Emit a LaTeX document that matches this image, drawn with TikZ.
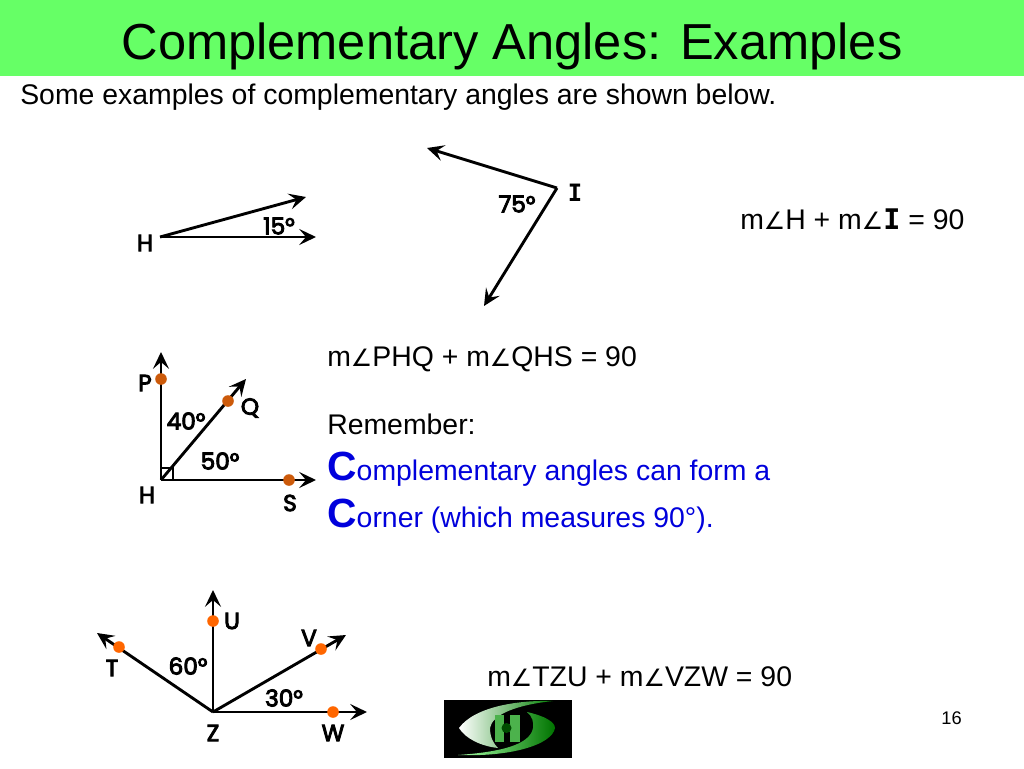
\documentclass[tikz,border=0pt]{standalone}
\usepackage{xcolor}
\usepackage{fontspec}
\setmainfont{Liberation Sans}
\newfontfamily\anglefont{DejaVu Sans}
\newfontfamily\handfont[FakeBold=4]{Poppins}
\newfontfamily\slabfont{DejaVu Sans Mono}
\usetikzlibrary{arrows.meta,positioning}
\definecolor{titlegreen}{RGB}{102,255,102}
\definecolor{dotorange}{RGB}{255,102,0}
\definecolor{dotbrown}{RGB}{204,90,10}
\definecolor{rembmblue}{RGB}{0,0,220}
\newcommand{\ang}{{\anglefont\fontsize{17pt}{17pt}\selectfont\char"2220}}
\newcommand{\bigc}{{\fontsize{29pt}{29pt}\selectfont\bfseries C}}

\begin{document}
\begin{tikzpicture}[x=0.25mm,y=-0.25mm,
		ray/.style = {line width=0.72mm,-{Stealth[length=4.2mm,width=4mm,inset=1.7mm]}},
		leg/.style = {line width=0.5mm},
		dot/.style = {circle,fill=dotorange,inner sep=0pt,minimum size=2.9mm},
		browndot/.style = {circle,fill=dotbrown,inner sep=0pt,minimum size=2.9mm},
		lab/.style = {inner sep=0pt,font=\handfont\fontsize{16.5pt}{16.5pt}\selectfont},
		txt/.style = {inner sep=0pt,anchor=base west,font=\fontsize{20.2pt}{20.2pt}\selectfont},
		btxt/.style = {txt,text=rembmblue}]
	\useasboundingbox (0,0) rectangle (1024,768);

	% Title
	\fill[titlegreen] (0,0) rectangle (1024,76);
	\node[inner sep=0pt,font=\fontsize{36pt}{36pt}\selectfont] (title) at (512,46) {Complementary Angles: Examples};
	\node[txt] (intro) at (20,104) {Some examples of complementary angles are shown below.};

	% Angle H
	\coordinate (hone) at (160,237);
	\coordinate (hup) at (306,197);
	\coordinate (hright) at (316,237);
	\draw[ray] (hone) -- (hup);
	\draw[ray] (hone) -- (hright);
	\node[lab] (hlab) at (145,243) {H};
	\node[lab] (fifteen) at (279,226) {15°};

	% Angle I
	\coordinate (ivert) at (557,188);
	\coordinate (iup) at (427,148);
	\coordinate (idown) at (484,306);
	\draw[ray] (ivert) -- (iup);
	\draw[ray] (ivert) -- (idown);
	\node[lab,font=\slabfont\bfseries\fontsize{17pt}{17pt}\selectfont] (ilab) at (575,193) {I};
	\node[lab] (seventyfive) at (517,204) {75°};

	\node[txt] (sumone) at (740,229) {m\ang H + m\ang{\slabfont\bfseries I} = 90};

	% Corner at H
	\coordinate (htwo) at (161,480);
	\coordinate (pend) at (161,352);
	\coordinate (qend) at (246,379);
	\coordinate (send) at (316,480);
	\draw[ray] (htwo) -- (pend);
	\draw[ray] (htwo) -- (qend);
	\draw[ray] (htwo) -- (send);
	\draw[leg] (161,468) -- (173,468) -- (173,480);
	\node[browndot] (pdot) at (161,379) {};
	\node[browndot] (qdot) at (228,401) {};
	\node[browndot] (sdot) at (289,480) {};
	\node[lab] (plab) at (145,383) {P};
	\node[lab] (qlab) at (250,408) {Q};
	\node[lab] (slab) at (290,503) {S};
	\node[lab] (htwolab) at (147,495) {H};
	\node[lab] (forty) at (186,421) {40°};
	\node[lab] (fifty) at (220,461) {50°};

	\node[txt] (sumtwo) at (327,366) {m\ang PHQ + m\ang QHS = 90};
	\node[txt] (remember) at (327,434) {Remember:};
	\node[btxt] (lineone) at (327,480) {\bigc omplementary angles can form a};
	\node[btxt] (linetwo) at (327,527) {\bigc orner (which measures 90°).};

	% Rays at Z
	\coordinate (zvert) at (213,712);
	\coordinate (uend) at (213,590);
	\coordinate (tend) at (97,633);
	\coordinate (vend) at (346,635);
	\coordinate (wend) at (367,712);
	\draw[ray] (zvert) -- (uend);
	\draw[ray] (zvert) -- (tend);
	\draw[ray] (zvert) -- (vend);
	\draw[ray] (zvert) -- (wend);
	\node[dot] (udot) at (213,621) {};
	\node[dot] (tdot) at (119,647) {};
	\node[dot] (vdot) at (321,649) {};
	\node[dot] (wdot) at (333,712) {};
	\node[lab] (ulab) at (232,621) {U};
	\node[lab] (tlab) at (112,668) {T};
	\node[lab] (vlab) at (309,638) {V};
	\node[lab] (wlab) at (333,733) {W};
	\node[lab] (zlab) at (213,733) {Z};
	\node[lab] (sixty) at (188,666) {60°};
	\node[lab] (thirty) at (284,698) {30°};

	\node[txt] (sumthree) at (487,686) {m\ang TZU + m\ang VZW = 90};

	% Logo
	\fill[black] (444,700) rectangle (572,758);
	\shade[left color=white,right color=green!50!black] (459,728) .. controls (475,706) and (520,700) .. (553,701) .. controls (515,705) and (492,715) .. (490,728) .. controls (490,738) and (494,744) .. (498,748) .. controls (480,746) and (465,738) .. (459,728);
	\shade[left color=green!35!white,right color=green!45!black] (527,712) .. controls (545,716) and (555,722) .. (555,728) .. controls (552,745) and (510,757) .. (458,755) .. controls (500,752) and (530,745) .. (533,728) .. controls (534,722) and (532,716) .. (527,712);
	\fill[green!40!gray] (495,715) rectangle (504,742);
	\fill[green!40!gray] (510,715) rectangle (520,742);
	\fill[green!40!gray] (504,724) rectangle (510,732);
	\fill[black!70!green] (506.5,728) circle (5);

	% Page number
	\node[inner sep=0pt,anchor=base east,font=\fontsize{13pt}{13pt}\selectfont] (pagenum) at (962,724) {16};
\end{tikzpicture}
\end{document}
